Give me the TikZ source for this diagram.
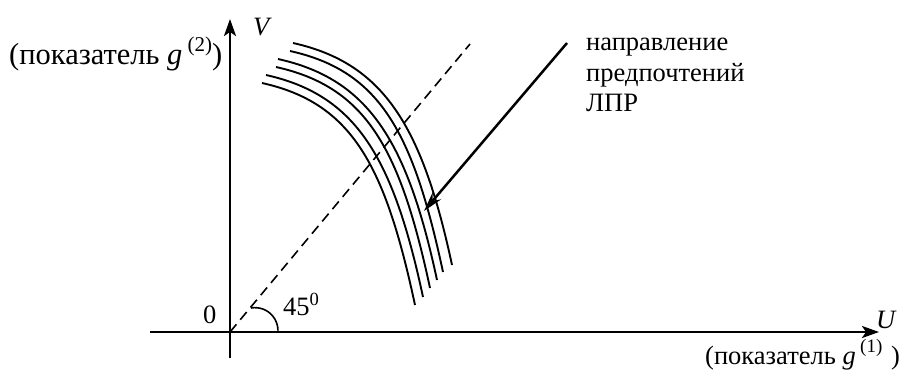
\documentclass[tikz,border=0pt]{standalone}
\usepackage{fontspec}
\setmainfont{Liberation Serif}
\usepackage{tikz}
\usetikzlibrary{arrows.meta,positioning}
\newcommand{\idx}[2][19]{\raisebox{0.42em}{\fontsize{#1}{#1}\selectfont(#2)}}

\begin{document}
\begin{tikzpicture}[x=1pt,y=-1pt,
    every node/.style={inner sep=0pt,font=\fontsize{26.5}{30.5}\selectfont},
    biglabel/.style={font=\fontsize{30.5}{34}\selectfont},
    axis/.style={line width=2.5pt,-{Stealth[length=17pt,width=12pt,inset=4pt]}},
    curve/.style={line width=1.9pt},
    diag/.style={line width=1.6pt,dash pattern=on 10pt off 6pt},
    pref/.style={line width=2.5pt,-{Stealth[length=20pt,width=11pt,inset=7pt]}}]
  \useasboundingbox (0,0) rectangle (905,383);

  % axes
  \coordinate (O) at (230,332);
  \coordinate (xstart) at (150,332);
  \coordinate (xend) at (879,332);
  \coordinate (ystart) at (230,358);
  \coordinate (yend) at (230,19);
  \draw[axis] (xstart) -- (xend);
  \draw[axis] (ystart) -- (yend);
  \node[anchor=base west] (V) at (253,35) {\textit{V}};
  \node[anchor=base west] (U) at (876,328) {\textit{U}};
  \node[anchor=base west] (zero) at (203,323) {0};
  \node[biglabel,anchor=base west] (vlabel) at (9,64) {(показатель \textit{g}\,\idx[21]{2})};
  \node[anchor=base west] (ulabel) at (705,364) {(показатель \textit{g}\,\idx{1}\,\,)};

  % 45 degree line
  \coordinate (diagend) at (470,44);
  \draw[diag] (O) -- (diagend);
  \draw[line width=1.6pt] (251,308) arc[start angle=-100,end angle=0,radius=23];
  \node[anchor=base west] (angle) at (283,315) {45\textsuperscript{0}};

  % indifference curves
  \foreach \sx/\sy/\ex/\ey [count=\i] in {293/43/452/265,290/51/443/272,278/59/437/280,
      276/67/430/288,266/75/423/297,262/83/415/305} {
    \coordinate (s\i) at (\sx,\sy);
    \coordinate (e\i) at (\ex,\ey);
    \draw[curve] (s\i) .. controls ({\sx+90},{\sy+20}) and ({\ex-30},{\ey-140}) .. (e\i);
  }

  % preference direction
  \coordinate (tail) at (567,43);
  \coordinate (tip) at (424,211);
  \draw[pref] (tail) -- (tip);
  \node[anchor=north west,align=left] (dir) at (586,38) {направление\\предпочтений\\ЛПР};
\end{tikzpicture}
\end{document}
